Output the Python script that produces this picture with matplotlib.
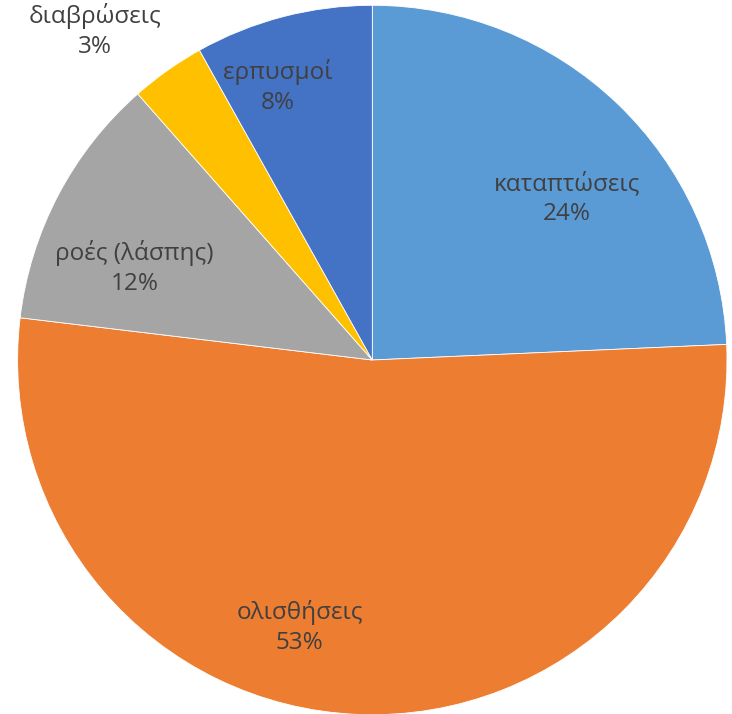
import matplotlib
matplotlib.use("Agg")
import matplotlib.pyplot as plt
import numpy as np

# slices, clockwise from 12 o'clock (shares)
labels = ["καταπτώσεις", "ολισθήσεις", "ροές (λάσπης)", "διαβρώσεις", "ερπυσμοί"]
values = [24.3, 52.6, 11.6, 3.4, 8.1]
colors = ["#5B9BD5", "#ED7D31", "#A5A5A5", "#FFC000", "#4472C4"]

# label placement: radius (fraction of pie radius) and angle shift in degrees
label_r = [0.713, 0.782, 0.718, 1.213, 0.814]
label_shift = [-6.6, -13.0, 6.6, 4.9, 4.5]

W, H = 732, 714
cx, cy, R = 372.3, 360.0, 354.7

fig = plt.figure(figsize=(W / 100, H / 100), dpi=100)
ax = fig.add_axes([0, 0, 1, 1])

wedges, _ = ax.pie(values, colors=colors, startangle=90, counterclock=False,
                   wedgeprops=dict(edgecolor="white", linewidth=0.6))

ax.set_xlim(-cx / R, (W - cx) / R)
ax.set_ylim(-(H - cy) / R, cy / R)
ax.set_aspect("auto")
ax.axis("off")

total = sum(values)
for w, lab, v, r, s in zip(wedges, labels, values, label_r, label_shift):
    mid = np.deg2rad((w.theta1 + w.theta2) / 2 + s)
    ax.text(r * np.cos(mid), r * np.sin(mid), f"{lab}\n{round(100 * v / total)}%",
            ha="center", va="center", fontsize=17.5, color="#404040",
            family="Open Sans", linespacing=1.32)

fig.savefig("out.png", dpi=100)
